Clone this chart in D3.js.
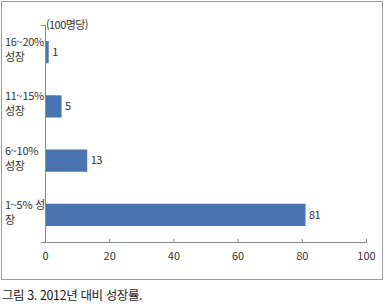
<!DOCTYPE html>
<html lang="ko">
<head>
<meta charset="utf-8">
<script src="https://d3js.org/d3.v7.min.js"></script>
<style>
    body { margin: 0; background: #fff; }
    text { font-family: "Noto Sans CJK KR", "Noto Sans", sans-serif; fill: #333; }
</style>
</head>
<body>
<svg id="chart" width="385" height="306"></svg>
<script>
// Data
var categories = [["16~20%", "성장"], ["11~15%", "성장"], ["6~10%", "성장"], ["1~5% 성", "장"]];
var values = [1, 5, 13, 81];
var ticks = [0, 20, 40, 60, 80, 100];
var unitLabel = "(100명당)";
var caption = "그림 3. 2012년 대비 성장률.";

var svg = d3.select("#chart");

// Outer frame
svg.append("rect")
    .attr("x", 1.5).attr("y", 1.5)
    .attr("width", 381).attr("height", 278)
    .attr("fill", "none")
    .attr("stroke", "#9a9a9a");

var x = d3.scaleLinear().domain([0, 100]).range([45, 366]);
var y = d3.scaleBand()
    .domain(categories.map(function(d, i) { return i; }))
    .range([25, 242])
    .paddingInner(0.59)
    .paddingOuter(0.295);

// Bars
svg.selectAll("rect.bar")
    .data(values)
    .enter().append("rect")
    .attr("class", "bar")
    .attr("x", x(0) + 0.5)
    .attr("y", function(d, i) { return y(i); })
    .attr("width", function(d) { return x(d) - x(0); })
    .attr("height", y.bandwidth())
    .attr("fill", "#4a74b0");

// Value labels
svg.selectAll("text.val")
    .data(values)
    .enter().append("text")
    .attr("class", "val")
    .attr("x", function(d) { return x(d) + 4; })
    .attr("y", function(d, i) { return y(i) + y.bandwidth() / 2; })
    .attr("dy", "0.35em")
    .style("font-size", "11px")
    .style("letter-spacing", "-0.5px")
    .text(function(d) { return d; });

// Category labels (two lines)
var cat = svg.selectAll("text.cat")
    .data(categories)
    .enter().append("text")
    .attr("class", "cat")
    .style("font-size", "11px")
    .style("letter-spacing", "-0.3px");
cat.selectAll("tspan")
    .data(function(d, i) { return d.map(function(s, j) { return {s: s, i: i, j: j}; }); })
    .enter().append("tspan")
    .attr("x", 5)
    .attr("y", function(d) { return y(d.i) + y.bandwidth() / 2 + (d.j === 0 ? -6 : 9); })
    .text(function(d) { return d.s; });

// Y axis line with top tick
svg.append("line")
    .attr("x1", 45.5).attr("x2", 45.5)
    .attr("y1", 25).attr("y2", 242)
    .attr("stroke", "#8c8c8c");
svg.append("line")
    .attr("x1", 41).attr("x2", 45.5)
    .attr("y1", 25.5).attr("y2", 25.5)
    .attr("stroke", "#8c8c8c");

// X axis
var xAxis = svg.append("g")
    .attr("transform", "translate(0,242)")
    .call(d3.axisBottom(x).tickValues(ticks).tickSize(0).tickPadding(10));
xAxis.select(".domain").remove();
xAxis.append("line")
    .attr("x1", 41).attr("x2", 366)
    .attr("y1", 0.5).attr("y2", 0.5)
    .attr("stroke", "#8c8c8c");
xAxis.selectAll(".tick").append("line")
    .attr("y1", -3).attr("y2", 1)
    .attr("stroke", "#8c8c8c");
xAxis.selectAll(".tick text")
    .style("font-family", "\"Noto Sans CJK KR\", sans-serif")
    .style("font-size", "11px")
    .attr("fill", "#333");

// Unit label
svg.append("text")
    .attr("x", 46)
    .attr("y", 25)
    .attr("dy", "0.35em")
    .style("font-size", "11px")
    .style("letter-spacing", "-0.6px")
    .text(unitLabel);

// Caption
svg.append("text")
    .attr("x", 2)
    .attr("y", 296)
    .attr("dy", "0.35em")
    .style("font-size", "12.5px")
    .style("letter-spacing", "-0.4px")
    .style("fill", "#1a1a1a")
    .text(caption);
</script>
</body>
</html>
